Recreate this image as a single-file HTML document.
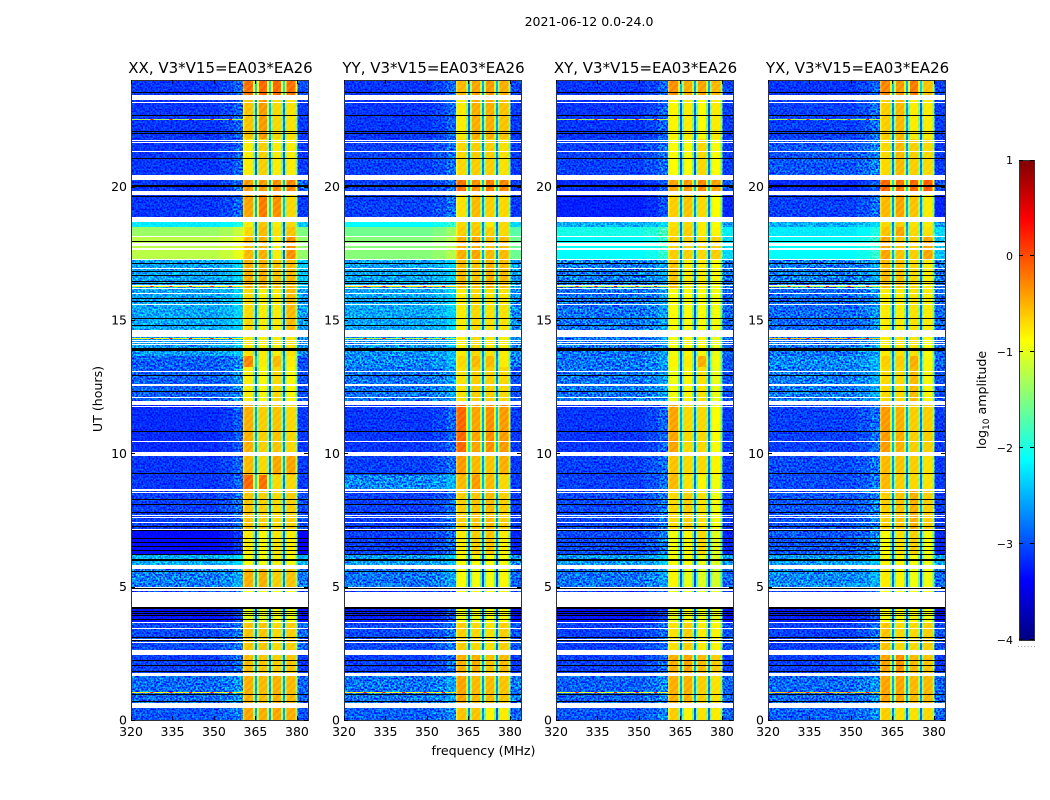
<!DOCTYPE html>
<html>
<head>
<meta charset="utf-8">
<title>2021-06-12 0.0-24.0</title>
<style>
html,body{margin:0;padding:0;background:#fff;}
svg{display:block;font-family:"DejaVu Sans","Liberation Sans",sans-serif;fill:#000;}
.tick{font-size:12.5px;}
.title{font-size:15px;}
</style>
</head>
<body>
<svg id="chart" xmlns="http://www.w3.org/2000/svg" width="1050" height="800" viewBox="0 0 1050 800">
<defs>
<filter id="speckle" x="0" y="0" width="100%" height="100%" color-interpolation-filters="sRGB">
<feTurbulence type="fractalNoise" baseFrequency="0.55" numOctaves="1" seed="7"/>
<feColorMatrix type="matrix" values="2.8 0 0 0 -0.9 2.8 0 0 0 -0.9 2.8 0 0 0 -0.9 0 0 0 0 1"/>
</filter>
<pattern id="hatch" width="5" height="5" patternUnits="userSpaceOnUse" patternTransform="rotate(45)">
<rect width="2.5" height="5" fill="#fff"/>
<rect x="2.5" width="2.5" height="5" fill="#000"/>
</pattern>
</defs>
<text x="589" y="26" font-size="12.5" text-anchor="middle">2021-06-12 0.0-24.0</text>
<text x="483.5" y="755" font-size="12.6" text-anchor="middle">frequency (MHz)</text>
<text x="0" y="0" font-size="12.6" text-anchor="middle" transform="translate(102 399) rotate(-90)">UT (hours)</text>
<text x="0" y="0" font-size="12.6" text-anchor="middle" transform="translate(986 400) rotate(-90)">log<tspan font-size="9" dy="3">10</tspan><tspan dy="-3"> amplitude</tspan></text>
<g id="panels"></g>
<g id="colorbar"></g>
</svg>
<script>
/* Axis ranges */
const freqRange = [320, 384];
const hourRange = [0, 24];
const colorRange = [-4, 1];
const samplesPerDay = 640;

/* Tick labels */
const freqTicks = [320, 335, 350, 365, 380];
const hourTicks = [0, 5, 10, 15, 20];
const colorTicks = [1, 0, -1, -2, -3, -4];
const panelTitles = ['XX, V3*V15=EA03*EA26', 'YY, V3*V15=EA03*EA26', 'XY, V3*V15=EA03*EA26', 'YX, V3*V15=EA03*EA26'];

/* Frequency channels (MHz) */
const channelEdges = [320, 352, 357, 360.5, 361, 364.2, 364.9, 365.6, 366.3, 369.2, 369.9, 370.6, 371.3, 374.2, 374.9, 375.6, 376.3, 379.4, 380.2, 384];
const channelColumn = [0, 0, 0, 1, 1, 1, 1, 2, 2, 2, 2, 3, 3, 3, 3, 4, 4, 4, 5];
const channelOffset = [-0.12, -0.05, 0.1, -0.3, -0.08, -0.85, -2.2, -0.85, -0.08, -0.85, -2.2, -0.85, -0.08, -0.85, -2.2, -0.85, -0.08, -0.85, -0.1];

/* Time-band edges, as sample index counted from 00:00 */
const bandEdges = [0, 17, 47, 70, 98, 113, 133, 155, 165, 190, 230, 245, 268, 319, 353, 364, 383, 432, 461, 484, 493, 503, 525, 545, 581, 625, 640];

/* log10 amplitude per time band: [below-band, seg1, seg2, seg3, seg4, above-band] */
const xxLevels = [
[-2.85,-0.35,-0.4,-0.35,-0.4,-2.9],[-2.75,-0.4,-0.45,-0.4,-0.45,-2.8],[-2.95,-0.45,-0.5,-0.55,-0.5,-3],[-2.9,-0.5,-0.5,-0.6,-0.55,-2.8],
[-3.15,-0.9,-0.9,-0.8,-0.85,-3.2],[-2.9,-0.8,-0.8,-0.8,-0.8,-3],[-2.65,-0.4,-0.4,-0.55,-0.5,-2.7],[-2.4,-0.8,-0.8,-0.7,-0.8,-2.4],
[-3.2,-0.7,-0.75,-0.65,-0.7,-3.3],[-2.95,-0.5,-0.55,-0.6,-0.55,-2.9],[-3,-0.05,-0.1,-0.6,-0.6,-3],[-3,-0.45,-0.6,-0.35,-0.35,-3],
[-3.05,-0.4,-0.55,-0.5,-0.6,-3],[-2.8,-0.7,-0.75,-0.6,-0.75,-2.9],[-2.8,-0.2,-0.7,-0.45,-0.7,-2.9],[-2.5,-0.65,-0.7,-0.7,-0.65,-2.6],
[-2.45,-0.6,-0.7,-0.7,-0.45,-2.5],[-2.45,-0.4,-0.4,-0.5,-0.45,-2.3],[-1.1,-0.45,-0.4,-0.7,-0.25,-1.3],[-1.25,-0.6,-0.45,-0.65,-0.5,-1.4],
[-2.1,-0.7,-0.5,-0.7,-0.6,-2.3],[-3,-0.35,-0.15,-0.25,-0.6,-3],[-3,-0.3,-0.3,-0.25,-0.2,-2.8],[-3,-0.7,-0.55,-0.7,-0.7,-3],
[-3,-0.5,-0.3,-0.6,-0.65,-3],[-3,-0.1,-0.05,-0.05,-0.1,-2.9]];
const yyLevels = [
[-2.8,-0.5,-0.5,-0.75,-0.7,-2.8],[-2.7,-0.35,-0.45,-0.45,-0.5,-2.7],[-2.95,-0.4,-0.4,-0.5,-0.45,-3],[-2.9,-0.55,-0.6,-0.65,-0.55,-2.9],
[-3.1,-0.85,-0.85,-0.8,-0.8,-3.2],[-3,-0.75,-0.75,-0.75,-0.75,-3],[-2.7,-0.8,-0.85,-0.85,-0.75,-2.8],[-2.5,-0.8,-0.8,-0.8,-0.8,-2.6],
[-2.95,-0.7,-0.55,-0.5,-0.7,-3.1],[-2.95,-0.55,-0.5,-0.45,-0.55,-3],[-2.6,-0.45,-0.3,-0.45,-0.6,-3],[-2.95,-0.3,-0.45,-0.5,-0.4,-3],
[-3,-0.05,-0.35,-0.25,-0.3,-3],[-2.7,-0.65,-0.55,-0.55,-0.6,-2.9],[-2.6,-0.6,-0.45,-0.45,-0.7,-2.7],[-2.55,-0.7,-0.6,-0.65,-0.7,-2.6],
[-2.45,-0.7,-0.6,-0.65,-0.65,-2.6],[-2.45,-0.45,-0.5,-0.4,-0.45,-2.5],[-1.35,-0.4,-0.35,-0.45,-0.45,-1.5],[-1.45,-0.55,-0.5,-0.55,-0.6,-1.6],
[-2,-0.6,-0.55,-0.7,-0.6,-2.2],[-2.95,-0.65,-0.45,-0.55,-0.6,-3],[-2.95,-0.1,-0.25,-0.15,-0.2,-3],[-2.95,-0.6,-0.55,-0.55,-0.65,-3],
[-3,-0.7,-0.4,-0.4,-0.5,-3],[-3,-0.45,-0.35,-0.3,-0.4,-2.95]];
const xyLevels = [
[-2.85,-0.55,-0.75,-0.65,-0.7,-2.8],[-2.8,-0.4,-0.4,-0.55,-0.65,-2.8],[-2.95,-0.4,-0.35,-0.45,-0.55,-3],[-2.95,-0.65,-0.55,-0.7,-0.75,-2.9],
[-3.15,-0.9,-0.8,-0.85,-0.9,-3.2],[-3,-0.9,-0.9,-0.9,-0.9,-3],[-2.7,-0.75,-0.9,-0.95,-1,-2.8],[-2.5,-0.8,-0.8,-0.9,-0.95,-2.5],
[-2.9,-0.85,-0.75,-0.6,-0.95,-3.1],[-2.9,-0.6,-0.55,-0.65,-0.85,-3],[-2.95,-0.45,-0.65,-0.75,-0.85,-3],[-2.95,-0.5,-0.6,-0.6,-0.75,-3],
[-3,-0.35,-0.6,-0.6,-0.8,-3],[-2.7,-0.85,-0.75,-0.65,-0.9,-2.9],[-2.7,-0.75,-0.7,-0.4,-0.85,-2.9],[-2.7,-0.85,-0.75,-0.75,-0.9,-2.8],
[-2.7,-0.8,-0.8,-0.8,-0.85,-2.8],[-2.65,-0.5,-0.7,-0.7,-0.8,-2.7],[-2,-0.55,-0.55,-0.6,-0.55,-2.2],[-1.9,-0.6,-0.55,-0.7,-0.75,-2.1],
[-2.4,-0.65,-0.6,-0.7,-0.8,-2.5],[-3.1,-0.55,-0.5,-0.6,-0.8,-3.1],[-3.05,-0.35,-0.3,-0.2,-0.35,-2.9],[-2.95,-0.8,-0.8,-0.6,-0.8,-3],
[-3,-0.75,-0.7,-0.8,-0.7,-3],[-3,-0.25,-0.4,-0.35,-0.45,-2.95]];
const yxLevels = [
[-2.8,-0.55,-0.65,-0.65,-0.6,-2.8],[-2.75,-0.35,-0.35,-0.45,-0.45,-2.8],[-2.95,-0.35,-0.25,-0.45,-0.5,-3],[-2.95,-0.5,-0.6,-0.6,-0.55,-2.9],
[-3.1,-0.8,-0.75,-0.75,-0.85,-3.2],[-3,-0.8,-0.8,-0.8,-0.8,-3],[-2.6,-0.7,-0.75,-0.85,-0.85,-2.8],[-2.5,-0.75,-0.75,-0.8,-0.9,-2.5],
[-2.85,-0.8,-0.65,-0.55,-0.85,-3.1],[-2.85,-0.55,-0.5,-0.4,-0.55,-3],[-2.9,-0.45,-0.55,-0.6,-0.65,-3],[-2.9,-0.45,-0.5,-0.55,-0.65,-3],
[-2.95,-0.3,-0.4,-0.55,-0.55,-3],[-2.65,-0.6,-0.6,-0.45,-0.75,-2.9],[-2.6,-0.55,-0.55,-0.4,-0.75,-2.8],[-2.7,-0.7,-0.65,-0.65,-0.8,-2.8],
[-2.75,-0.7,-0.7,-0.65,-0.7,-2.8],[-2.65,-0.45,-0.5,-0.6,-0.7,-2.7],[-2,-0.35,-0.5,-0.55,-0.35,-2.3],[-2.1,-0.5,-0.35,-0.6,-0.65,-2.2],
[-2.4,-0.6,-0.55,-0.65,-0.7,-2.5],[-2.95,-0.45,-0.35,-0.5,-0.7,-3.1],[-3.05,-0.05,-0.1,-0.05,0,-2.9],[-2.85,-0.6,-0.45,-0.55,-0.6,-3],
[-2.95,-0.55,-0.45,-0.7,-0.7,-3],[-3,-0.2,-0.3,-0.15,-0.5,-2.95]];

/* Bright interference rows: [sample, level] per panel, and bursts along them (MHz) */
const xxHotRows = [[600,-1.3],[433,-0.8],[381,-0.9],[27,-0.8]];
const yyHotRows = [[433,-0.7],[381,-1.2],[27,-0.8]];
const xyHotRows = [[600,-1.3],[433,-1.2],[27,-1]];
const yxHotRows = [[600,-1.3],[433,-1.2],[381,-0.6],[27,-0.6]];
const hotBursts = [327, 334, 341, 348.7, 355.5];

/* Flagged samples: blank (white) ranges and all-zero (black) ranges */
const blankRanges = [[620,625],[617,618],[579,580],[577,578],[568,569],[540,545],[525,529],[498,503],[483,484],[474,477],[470,472],[460,461],[451,452],[434,435],[431,432],[426,427],[415,416],[383,390],[379,380],[377,378],[375,376],[348,349],[334,336],[322,323],[315,319],[313,314],[278,279],[264,268],[229,231],[227,228],[204,205],[202,203],[197,198],[190,191],[151,155],[132,133],[129,131],[113,128],[97,98],[91,92],[80,81],[77,78],[65,70],[44,47],[12,17]];
const zeroRanges = [[627,628],[604,605],[588,589],[586,587],[561,562],[533,535],[523,524],[478,479],[456,457],[448,449],[444,445],[438,439],[436,437],[421,422],[418,419],[401,402],[394,395],[369,372],[344,345],[328,329],[288,289],[246,247],[220,221],[215,216],[207,208],[193,194],[189,190],[181,182],[177,178],[173,174],[169,170],[165,166],[159,161],[148,149],[131,132],[111,113],[108,109],[106,107],[104,105],[100,101],[82,83],[79,80],[59,60],[54,55],[48,49],[25,26],[18,19]];

const panelLevels = [xxLevels, yyLevels, xyLevels, yxLevels];
const panelHotRows = [xxHotRows, yyHotRows, xyHotRows, yxHotRows];
const panelLeft = [131, 344, 556, 768];
const panelNames = ['xx', 'yy', 'xy', 'yx'];
const plotWidth = 177, plotTop = 80, plotBottom = 720;

const NS = 'http://www.w3.org/2000/svg';
function make(tag, parent, attrs) {
  const el = document.createElementNS(NS, tag);
  for (const k in attrs) el.setAttribute(k, attrs[k]);
  parent.appendChild(el);
  return el;
}
function jet(v) {
  const t = Math.max(0, Math.min(1, (v - colorRange[0]) / (colorRange[1] - colorRange[0])));
  const ch = c => Math.round(255 * Math.max(0, Math.min(1, 1.5 - Math.abs(4 * t - c))));
  return 'rgb(' + ch(3) + ',' + ch(2) + ',' + ch(1) + ')';
}
function yOfHour(h) {
  return plotBottom - (h - hourRange[0]) / (hourRange[1] - hourRange[0]) * (plotBottom - plotTop);
}
function yOfSample(s) {
  return yOfHour(s * 24 / samplesPerDay);
}

const panelsRoot = document.getElementById('panels');
panelLevels.forEach(function (levels, p) {
  const left = panelLeft[p];
  const xOf = f => left + (f - freqRange[0]) / (freqRange[1] - freqRange[0]) * plotWidth;
  const g = make('g', panelsRoot, { style: 'isolation:isolate' });
  
  

  const bg = make('rect', g, { x: left, y: plotTop, width: plotWidth, height: plotBottom - plotTop, fill: '#fff' });
  
  

  const cells = make('g', g, { 'shape-rendering': 'crispEdges' });
  
  
  levels.forEach(function (row, b) {
    channelColumn.forEach(function (col, c) {
      const yTop = yOfSample(bandEdges[b + 1]);
      const yBot = yOfSample(bandEdges[b]);
      const cell = make('rect', cells, {
        x: xOf(channelEdges[c]), y: yTop,
        width: xOf(channelEdges[c + 1]) - xOf(channelEdges[c]), height: yBot - yTop,
        fill: jet(row[col] + channelOffset[c])
      });
      
      
    });
    if (row[0] < -1.85) {
      const yTop = yOfSample(bandEdges[b + 1]);
      const yBot = yOfSample(bandEdges[b]);
      [[320, 360.5], [380.2, 384]].forEach(function (span) {
        const grain = make('rect', g, {
          x: xOf(span[0]), y: yTop, width: xOf(span[1]) - xOf(span[0]), height: yBot - yTop,
          filter: 'url(#speckle)', style: 'mix-blend-mode:overlay'
        });
        
        
      });
    }
  });
  const hatch = make('rect', g, {
    x: xOf(360.5), y: plotTop, width: xOf(380.2) - xOf(360.5), height: plotBottom - plotTop,
    fill: 'url(#hatch)', opacity: 0.12, style: 'mix-blend-mode:overlay'
  });
  
  

  const hotG = make('g', g, { 'shape-rendering': 'crispEdges' });
  
  
  panelHotRows[p].forEach(function (hot) {
    const y = yOfSample(hot[0] + 1);
    const line = make('rect', hotG, { x: left, y: y, width: xOf(360.5) - left, height: 1, fill: jet(hot[1]) });
    
    
    hotBursts.forEach(function (f) {
      const burst = make('rect', hotG, { x: xOf(f), y: y, width: 3, height: 1, fill: jet(0.3) });
      
      
    });
  });

  const flagG = make('g', g, { 'shape-rendering': 'crispEdges' });
  
  
  blankRanges.forEach(function (r) {
    const el = make('rect', flagG, { x: left, y: yOfSample(r[1]), width: plotWidth, height: yOfSample(r[0]) - yOfSample(r[1]), fill: '#fff' });
    
    
  });
  zeroRanges.forEach(function (r) {
    const el = make('rect', flagG, { x: left, y: yOfSample(r[1]), width: plotWidth, height: yOfSample(r[0]) - yOfSample(r[1]), fill: '#000' });
    
    
  });

  const frame = make('rect', g, { x: left + 0.5, y: plotTop + 0.5, width: plotWidth, height: plotBottom - plotTop, fill: 'none', stroke: '#333', 'stroke-width': 1 });
  
  

  freqTicks.forEach(function (f) {
    const x = Math.round(xOf(f)) + 0.5;
    const t1 = make('line', g, { x1: x, x2: x, y1: plotBottom, y2: plotBottom - 4, stroke: '#000' });
    
    
    const t2 = make('line', g, { x1: x, x2: x, y1: plotTop, y2: plotTop + 4, stroke: '#000' });
    
    
    const lab = make('text', g, { x: xOf(f), y: 736, 'text-anchor': 'middle', class: 'tick' });
    lab.textContent = String(f);
    
    
  });
  hourTicks.forEach(function (h) {
    const y = Math.round(yOfHour(h)) + 0.5;
    const t1 = make('line', g, { x1: left, x2: left + 4, y1: y, y2: y, stroke: '#000' });
    
    
    const t2 = make('line', g, { x1: left + plotWidth, x2: left + plotWidth - 4, y1: y, y2: y, stroke: '#000' });
    
    
    const lab = make('text', g, { x: left - 4, y: yOfHour(h) + 4.5, 'text-anchor': 'end', class: 'tick' });
    lab.textContent = String(h);
    
    
  });
  const title = make('text', g, { x: left + plotWidth / 2 + 1, y: 73, 'text-anchor': 'middle', class: 'title' });
  title.textContent = panelTitles[p];
  
  
});

/* Colorbar */
const cbLeft = 1019, cbWidth = 15, cbTop = 160, cbBottom = 640;
const cbY = v => cbBottom - (v - colorRange[0]) / (colorRange[1] - colorRange[0]) * (cbBottom - cbTop);
const cbRoot = document.getElementById('colorbar');
for (let i = 0; i < 240; i++) {
  const v = colorRange[0] + (i + 0.5) * (colorRange[1] - colorRange[0]) / 240;
  const seg = make('rect', cbRoot, { x: cbLeft, y: cbTop + (239 - i) * 2, width: cbWidth, height: 2, fill: jet(v), 'shape-rendering': 'crispEdges' });
  
  
}
const cbFrame = make('rect', cbRoot, { x: cbLeft + 0.5, y: cbTop + 0.5, width: cbWidth, height: cbBottom - cbTop, fill: 'none', stroke: '#333' });


colorTicks.forEach(function (v) {
  const y = Math.round(cbY(v)) + (v === 1 ? 0.5 : -0.5);
  const a = make('line', cbRoot, { x1: cbLeft, x2: cbLeft + 4, y1: y, y2: y, stroke: '#000' });
  
  
  const b = make('line', cbRoot, { x1: cbLeft + cbWidth, x2: cbLeft + cbWidth - 4, y1: y, y2: y, stroke: '#000' });
  
  
  const lab = make('text', cbRoot, { x: cbLeft - 6, y: cbY(v) + 4, 'text-anchor': 'end', 'font-size': 11 });
  lab.textContent = String(v).replace('-', '\u2212');
  
  
});
for (let i = 0; i < 6; i++) {
  const dot = make('rect', cbRoot, { x: 1018 + i * 3.2, y: 646, width: 1, height: 1, fill: '#999' });
  
  
}
</script>
</body>
</html>
